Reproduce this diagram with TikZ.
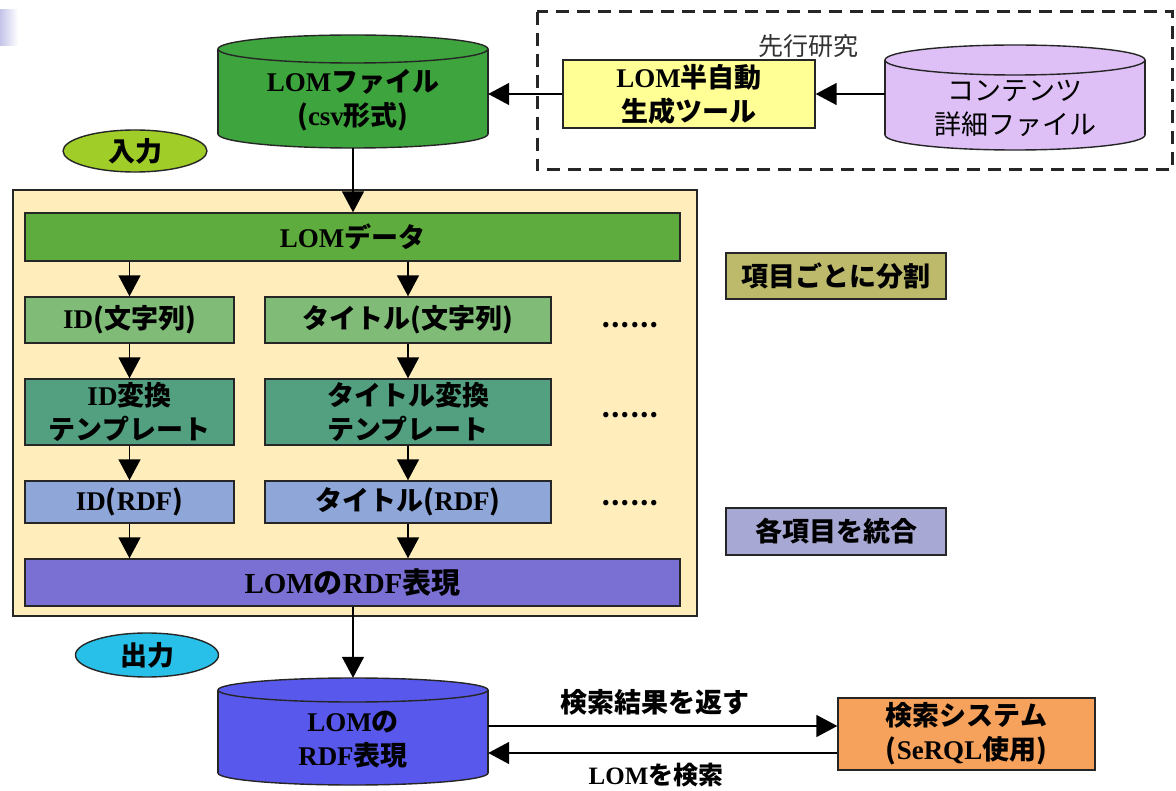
\documentclass[tikz,border=0pt]{standalone}
\usepackage{fontspec}
\setmainfont{Noto Sans CJK JP}
\newfontfamily\latf{Liberation Serif}
\usetikzlibrary{arrows.meta,shapes.geometric}
\newcommand\lt[1]{{\latf #1}}
\definecolor{cGreenCyl}{RGB}{62,165,62}
\definecolor{cLomData}{RGB}{95,172,62}
\definecolor{cStr}{RGB}{128,188,120}
\definecolor{cTmp}{RGB}{82,160,128}
\definecolor{cRdf}{RGB}{142,166,216}
\definecolor{cLomRdf}{RGB}{122,112,212}
\definecolor{cRdfCyl}{RGB}{88,88,236}
\definecolor{cIn}{RGB}{160,205,40}
\definecolor{cOut}{RGB}{40,192,232}
\definecolor{cBig}{RGB}{255,238,188}
\definecolor{cTool}{RGB}{255,255,150}
\definecolor{cCont}{RGB}{222,192,246}
\definecolor{cSplit}{RGB}{190,186,108}
\definecolor{cMerge}{RGB}{168,168,212}
\definecolor{cSearch}{RGB}{246,162,92}
\definecolor{cDeco}{RGB}{196,196,232}
\newcommand\mycyl[6]{%
 \pgfmathsetmacro\myCX{(#1+#2)/2}\pgfmathsetmacro\myRX{(#2-#1)/2}%
 \pgfmathsetmacro\myYA{#3+#5}\pgfmathsetmacro\myYB{#4-#5}%
 \filldraw[fill=#6, outl] (\myCX,\myYB) ellipse [x radius=\myRX pt, y radius=#5pt];
 \fill[#6] (#1,\myYA) rectangle (#2,\myYB);
 \draw[outl] (#1,\myYA) -- (#1,\myYB) (#2,\myYA) -- (#2,\myYB);
 \filldraw[fill=#6, outl] (\myCX,\myYA) ellipse [x radius=\myRX pt, y radius=#5pt];
}
\tikzset{
 outl/.style={draw=black!85, line width=1.4pt},
 txt/.style={font=\bfseries\fontsize{27}{34}\selectfont, align=center, inner sep=0pt},
 box/.style={outl, txt},
 arr/.style={line width=1.5pt, draw=black, -{Triangle[length=21pt,width=22pt]}},
 dots/.style={font=\bfseries\fontsize{25}{28}\selectfont, inner sep=0pt},
}
\begin{document}
\begin{tikzpicture}[x=1pt,y=-1pt]
\useasboundingbox (0,0) rectangle (1176,791);
\fill[white] (0,0) rectangle (1176,791);
\shade[left color=cDeco, right color=white] (0,10) rectangle (18,46);

% dashed frame of prior research
\draw[draw=black!85, line width=3pt, dash pattern=on 13pt off 8pt] (537,12) rectangle (1172,170);
\node[font=\fontsize{25}{30}\selectfont, text=black!80, inner sep=0pt] (prior) at (808,46) {先行研究};

% cylinders
\mycyl{218}{488}{35}{148}{14}{cGreenCyl}
\mycyl{885}{1145}{45}{150}{15}{cCont}
\mycyl{218}{488}{678}{785}{12}{cRdfCyl}
\node[minimum width=270pt, minimum height=113pt, inner sep=0pt] (lomf) at (353,91.5) {};
\node[txt] (lomft) at (353,100) {\lt{LOM}ファイル\\(\lt{csv}形式)};
\node[minimum width=260pt, minimum height=105pt, inner sep=0pt] (cont) at (1015,97.5) {};
\node[txt, font=\fontsize{27}{34}\selectfont] (contt) at (1015,108) {コンテンツ\\詳細ファイル};
\node[minimum width=270pt, minimum height=107pt, inner sep=0pt] (rdfc) at (353,731.5) {};
\node[txt] (rdfct) at (353,740) {\lt{LOM}の\\\lt{RDF}表現};

% tool box
\node[box, fill=cTool, minimum width=252pt, minimum height=68pt] (tool) at (689,94) {\lt{LOM}半自動\\生成ツール};

% ellipses
\node[ellipse, outl, fill=cIn, minimum width=144pt, minimum height=42pt, txt] (in) at (135,151) {入力};
\node[ellipse, outl, fill=cOut, minimum width=143pt, minimum height=44pt, txt] (out) at (147,655) {出力};

% big yellow frame
\node[outl, fill=cBig, minimum width=684pt, minimum height=426pt, inner sep=0pt] (frame) at (355,403) {};

\node[box, fill=cLomData, minimum width=655pt, minimum height=48pt] (lomdata) at (352.5,237) {\lt{LOM}データ};
\node[box, fill=cStr, minimum width=209pt, minimum height=46pt] (idstr) at (129.5,320) {\lt{ID}(文字列)};
\node[box, fill=cStr, minimum width=286pt, minimum height=46pt] (titlestr) at (408,320) {タイトル(文字列)};
\node[box, fill=cTmp, minimum width=209pt, minimum height=66pt] (idtmp) at (129.5,412) {\lt{ID}変換\\テンプレート};
\node[box, fill=cTmp, minimum width=286pt, minimum height=66pt] (titletmp) at (408,412) {タイトル変換\\テンプレート};
\node[box, fill=cRdf, minimum width=209pt, minimum height=42pt] (idrdf) at (129.5,502) {\lt{ID}(\lt{RDF})};
\node[box, fill=cRdf, minimum width=286pt, minimum height=42pt] (titlerdf) at (408,502) {タイトル(\lt{RDF})};
\node[box, fill=cLomRdf, minimum width=655pt, minimum height=47pt, font=\bfseries\fontsize{29}{34}\selectfont] (lomrdf) at (352.5,582.5) {\lt{LOM}の\lt{RDF}表現};

\node[dots] (d1) at (630,325) {……};
\node[dots] (d2) at (630,415) {……};
\node[dots] (d3) at (630,503) {……};

% side notes
\node[box, fill=cSplit, minimum width=220pt, minimum height=46pt] (split) at (836,276) {項目ごとに分割};
\node[box, fill=cMerge, minimum width=220pt, minimum height=47pt] (merge) at (836,531.5) {各項目を統合};

% search system
\node[box, fill=cSearch, minimum width=257pt, minimum height=72pt] (search) at (966.5,734) {検索システム\\(\lt{SeRQL}使用)};
\node[txt] (lab1) at (655,702) {検索結果を返す};
\node[txt, font=\bfseries\fontsize{25}{30}\selectfont] (lab2) at (656,775) {\lt{LOM}を検索};

% connectors
\draw[arr] (cont.west |- tool.west) -- (tool.east);
\draw[arr] (tool.west) -- (tool.west -| lomf.east);
\draw[arr] (lomf.south) -- (lomf.south |- lomdata.north);
\draw[arr] (idstr.north |- lomdata.south) -- (idstr.north);
\draw[arr] (titlestr.north |- lomdata.south) -- (titlestr.north);
\draw[arr] (idstr.south) -- (idtmp.north);
\draw[arr] (titlestr.south) -- (titletmp.north);
\draw[arr] (idtmp.south) -- (idrdf.north);
\draw[arr] (titletmp.south) -- (titlerdf.north);
\draw[arr] (idrdf.south) -- (idrdf.south |- lomrdf.north);
\draw[arr] (titlerdf.south) -- (titlerdf.south |- lomrdf.north);
\draw[arr] (lomrdf.south -| rdfc.north) -- (rdfc.north);
\coordinate (s1) at ([yshift=8pt]search.west);
\coordinate (s2) at ([yshift=-19pt]search.west);
\draw[arr] (s1 -| rdfc.east) -- (s1);
\draw[arr] (s2) -- (s2 -| rdfc.east);
\end{tikzpicture}
\end{document}
